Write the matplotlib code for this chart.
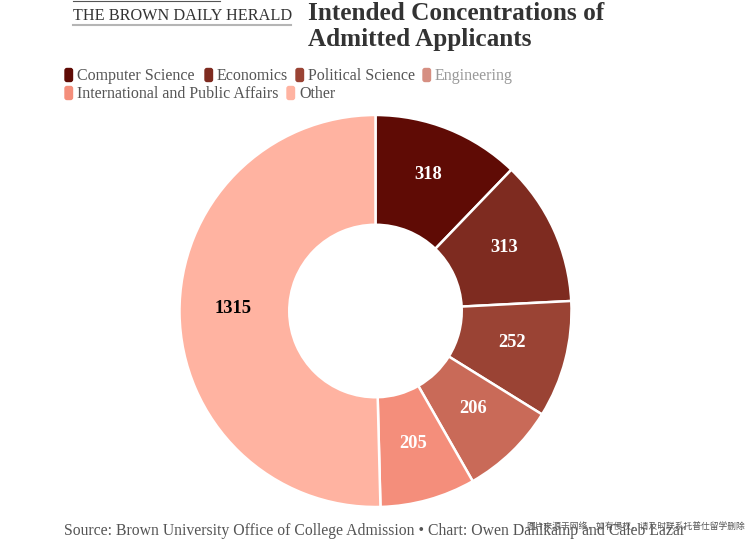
import math
import matplotlib
matplotlib.use('Agg')
import matplotlib.pyplot as plt
from matplotlib.patches import FancyBboxPatch
from matplotlib.lines import Line2D

categorias = ['Computer Science', 'Economics', 'Political Science', 'Engineering',
              'International and Public Affairs', 'Other']
valores = [318, 313, 252, 206, 205, 1315]
cores = ['#5f0b05', '#7e2b20', '#9a4334', '#c96a58', '#f48e7b', '#ffb3a1']
cores_legenda = ['#5f0b05', '#7e2b20', '#9a4334', '#d68f82', '#f48e7b', '#ffb3a1']
cores_rotulo = ['white', 'white', 'white', 'white', 'white', 'black']
titulo = ['Intended Concentrations of', 'Admitted Applicants']
fonte = 'Source: Brown University Office of College Admission • Chart: Owen Dahlkamp and Caleb Lazar'
marca = '图片来源于网络，如有侵权，请及时联系托普仕留学删除'

L, A = 746, 539
plt.rcParams['font.family'] = ['Liberation Serif', 'DejaVu Serif']

fig = plt.figure(figsize=(L / 100, A / 100), dpi=100)

def texto(x, y, s, **kw):
    fig.text(x / L, 1 - y / A, s, va='center', ha='left', **kw)

# donut
ax = fig.add_axes([179.5 / L, (A - 507) / A, 392 / L, 392 / A])
fatias, _ = ax.pie(valores, colors=cores, startangle=90, counterclock=False, radius=1,
                   wedgeprops=dict(width=0.56, edgecolor='white', linewidth=1.8))
ax.set_xlim(-1, 1)
ax.set_ylim(-1, 1)

total = sum(valores)
acum = 0
for v, c in zip(valores, cores_rotulo):
    ang = math.radians(90 - (acum + v / 2) / total * 360)
    acum += v
    ax.text(0.725 * math.cos(ang) - 0.004, 0.725 * math.sin(ang) + 0.022, str(v), color=c,
            ha='center', va='center', fontsize=13.3, fontweight='bold')

# logo
texto(73, 16, 'THE BROWN DAILY HERALD', fontsize=11.7, color='#333333')
fig.add_artist(Line2D([73 / L, 220 / L], [1 - 1 / A, 1 - 1 / A], color='#555555', lw=0.8))
fig.add_artist(Line2D([73 / L, 291 / L], [1 - 25 / A, 1 - 25 / A], color='#b5b5b5', lw=1.5))

# titulo
texto(308, 13.5, titulo[0], fontsize=18.2, fontweight='bold', color='#333333')
texto(308, 39.5, titulo[1], fontsize=18.2, fontweight='bold', color='#333333')

# legenda
pos_legenda = [(64, 75), (204, 75), (295, 75), (422, 75), (64, 93), (286, 93)]
for nome, cor, (x, y) in zip(categorias, cores_legenda, pos_legenda):
    fig.add_artist(FancyBboxPatch((x + 1, A - y - 6.5), 7.5, 13, boxstyle='round,pad=0,rounding_size=2',
                                  mutation_scale=1, fc=cor, ec=cor, lw=1,
                                  transform=None))
    cor_txt = '#999999' if nome == 'Engineering' else '#555555'
    texto(x + 13, y + 1, nome, fontsize=11.5, color=cor_txt)

# rodape
texto(64, 531, fonte, fontsize=11.35, color='#555555')
texto(526, 527, marca, fontsize=6.3, color='#555555', family=['Noto Sans CJK SC', 'DejaVu Sans'])

fig.savefig('out.png', dpi=100)
